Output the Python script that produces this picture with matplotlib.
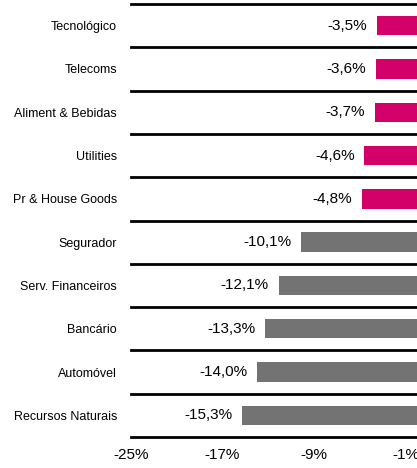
import matplotlib
matplotlib.use("Agg")
import matplotlib.pyplot as plt
from matplotlib.ticker import FuncFormatter

plt.rcParams['font.family'] = ['Liberation Sans', 'DejaVu Sans']

# dados
setores = ["Tecnológico", "Telecoms", "Aliment & Bebidas", "Utilities", "Pr & House Goods",
           "Segurador", "Serv. Financeiros", "Bancário", "Automóvel", "Recursos Naturais"]
variacao = [-3.5, -3.6, -3.7, -4.6, -4.8, -10.1, -12.1, -13.3, -14.0, -15.3]
ticks_x = [-25, -17, -9, -1]

cor_rosa = "#D4006A"
cor_cinza = "#737373"
cores = [cor_rosa if v > -5 else cor_cinza for v in variacao]

fig = plt.figure(figsize=(4.17, 4.68), dpi=100)
ax = fig.add_axes([131 / 417, 1 - 437 / 468, 1 - 131 / 417, 433 / 468])

pos = list(range(len(setores)))
ax.barh(pos, variacao, height=0.45, color=cores)

for i, v in enumerate(variacao):
	txt = ("%.1f%%" % v).replace(".", ",")
	ax.annotate(txt, xy=(v, i), xytext=(-7, 0), textcoords="offset points",
				ha="right", va="center", fontsize=11)

for y in range(len(setores) + 1):
	ax.axhline(y - 0.5, color="black", lw=2, clip_on=False)

ax.set_xlim(-25, 0)
ax.set_ylim(len(setores) - 0.5, -0.5)
ax.set_xticks(ticks_x)
ax.xaxis.set_major_formatter(FuncFormatter(lambda x, p: "%d%%" % x))
ax.set_yticks(pos)
ax.set_yticklabels(setores, fontsize=9)
ax.tick_params(axis="both", length=0)
ax.tick_params(axis="x", pad=8, labelsize=11)
ax.tick_params(axis="y", pad=10)
for s in ax.spines.values():
	s.set_visible(False)

fig.savefig("out.png", dpi=100)
